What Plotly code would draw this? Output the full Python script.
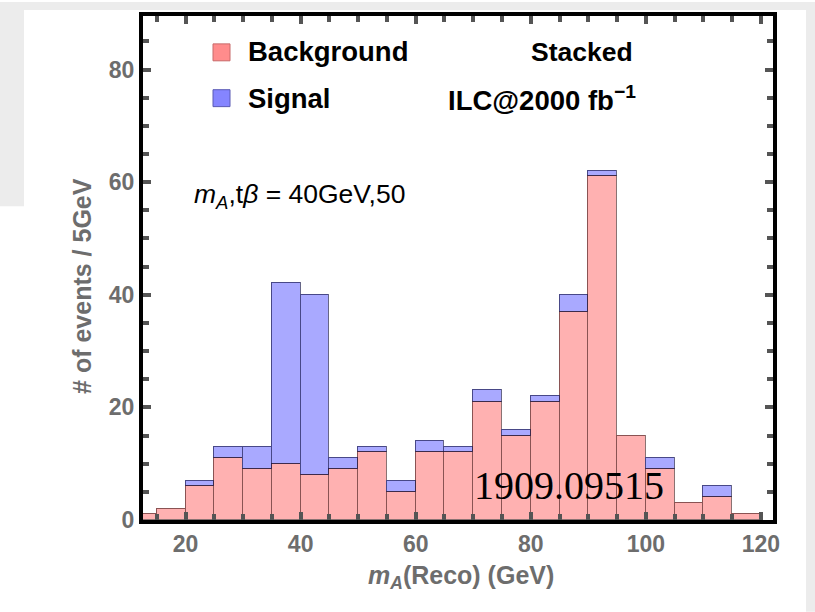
import plotly.graph_objects as go

# ---- data ----
bin_left = [10, 15, 20, 25, 30, 35, 40, 45, 50, 55, 60, 65, 70, 75, 80, 85, 90, 95, 100, 105, 110, 115]
background = [1, 2, 6, 11, 9, 10, 8, 9, 12, 5, 12, 12, 21, 15, 21, 37, 61, 15, 9, 3, 4, 1]
signal = [0, 0, 1, 2, 4, 32, 32, 2, 1, 2, 2, 1, 2, 1, 1, 3, 1, 0, 2, 0, 2, 0]
bin_width = 5
x_ticks = [20, 40, 60, 80, 100, 120]
y_ticks = [0, 20, 40, 60, 80]

centers = [b + bin_width / 2 for b in bin_left]
sig_plot = [s if s > 0 else None for s in signal]

W, H = 815, 612
L, R, T, B = 143, 773, 14, 520


def px(xp):
    return (xp - L) / (R - L)


def py(yp):
    return (B - yp) / (B - T)


fig = go.Figure()
fig.add_trace(go.Bar(
    x=centers, y=background, width=bin_width, name="Background",
    marker=dict(color="#FFB1B1", line=dict(color="rgba(60,20,20,0.6)", width=1.2)),
))
fig.add_trace(go.Bar(
    x=centers, y=sig_plot, width=bin_width, name="Signal",
    marker=dict(color="#A9A9FF", line=dict(color="rgba(20,20,70,0.65)", width=1.2)),
))

SANS = "Liberation Sans, Arial, sans-serif"
GRAY = "#6d6d6d"

axis_common = dict(
    showline=True, linecolor="black", linewidth=4, mirror="allticks",
    ticks="inside", ticklen=8, tickwidth=4, tickcolor="#555555",
    showgrid=False, zeroline=False,
    tickfont=dict(family=SANS, size=23, color=GRAY, weight="bold"),
    minor=dict(ticks="inside", dtick=5, ticklen=6, tickwidth=4, tickcolor="#555555", showgrid=False),
)

fig.update_layout(
    width=W, height=H,
    margin=dict(l=L, r=W - R, t=T, b=H - B),
    paper_bgcolor="white", plot_bgcolor="white",
    barmode="stack", bargap=0, showlegend=False,
    xaxis=dict(range=[12.6, 122.1], tickvals=x_ticks, **axis_common),
    yaxis=dict(range=[0, 89.5], tickvals=y_ticks, **axis_common),
)

# slide background regions (grey)
shapes = [
    dict(type="rect", xref="paper", yref="paper", x0=px(0), x1=px(24), y0=py(205), y1=py(0),
         fillcolor="#ececec", line=dict(width=0), layer="below"),
    dict(type="rect", xref="paper", yref="paper", x0=px(0), x1=px(815), y0=py(8), y1=py(0),
         fillcolor="#ececec", line=dict(width=0), layer="below"),
    dict(type="rect", xref="paper", yref="paper", x0=px(806), x1=px(815), y0=py(612), y1=py(0),
         fillcolor="#ececec", line=dict(width=0), layer="below"),
    # legend swatches
    dict(type="rect", xref="paper", yref="paper", x0=px(213), x1=px(230), y0=py(59), y1=py(42),
         fillcolor="#FF8C8C", line=dict(color="#C86A6A", width=1)),
    dict(type="rect", xref="paper", yref="paper", x0=px(213), x1=px(230), y0=py(105), y1=py(88),
         fillcolor="#8585FF", line=dict(color="#5A5AB4", width=1)),
]
fig.update_layout(shapes=shapes)

ann = []


def add_text(text, xp, yp, size, color="black", weight="bold", family=SANS, xanchor="left", angle=0):
    ann.append(dict(text=text, xref="paper", yref="paper", x=px(xp), y=py(yp),
                    xanchor=xanchor, yanchor="middle", showarrow=False, textangle=angle,
                    font=dict(family=family, size=size, color=color, weight=weight)))


add_text("Background", 246, 50, 27.5)
add_text("Signal", 246, 97, 27.5)
add_text("Stacked", 529, 50, 26.5)
add_text("ILC@2000 fb<sup>\u22121</sup>", 446, 97, 27.5)
add_text("<i>m</i><sub><i>A</i></sub>,t<i>\u03b2</i> = 40GeV,50", 192, 195, 26.5, weight="normal")
add_text("1909.09515", 472, 485, 40, weight="normal", family="Liberation Serif, Times New Roman, serif")
add_text("<i>m</i><sub><i>A</i></sub>(Reco) (GeV)", 461, 577, 25, color=GRAY, xanchor="center")
add_text("# of events / 5GeV", 82, 285, 25, color=GRAY, xanchor="center", angle=-90)
fig.update_layout(annotations=ann)

fig.write_html("out.html")
